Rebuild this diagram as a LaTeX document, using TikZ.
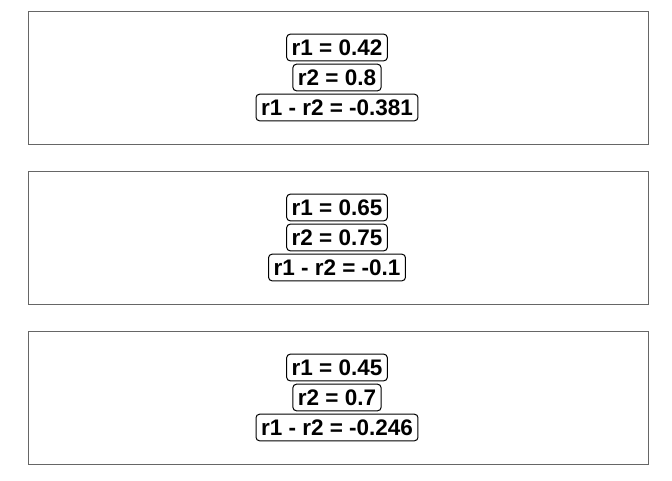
\documentclass[tikz,border=0pt]{standalone}
\usepackage{fontspec}
\setmainfont{Liberation Sans}
\definecolor{framegray}{HTML}{666666}
\tikzset{
  panel/.style={draw=framegray, line width=1pt},
  lbl/.style={draw=black, line width=1pt, rounded corners=3.5pt, fill=white,
    font=\fontsize{22.5}{27}\selectfont\bfseries, inner xsep=5pt, inner ysep=5pt,
    text height=16.6pt, text depth=0pt, anchor=center}
}
\begin{document}
\begin{tikzpicture}[x=1pt,y=-1pt]
\useasboundingbox (0,0) rectangle (672,480);
% panels
\draw[panel] (28,11) rectangle (648,144);
\draw[panel] (28,171) rectangle (648,304);
\draw[panel] (28,331) rectangle (648,464);
% panel 1
\node[lbl] (a1) at (337,47.5) {r1 = 0.42};
\node[lbl] (a2) at (337,77.5) {r2 = 0.8};
\node[lbl] (a3) at (337,107.5) {r1 - r2 = -0.381};
% panel 2
\node[lbl] (b1) at (337,207.5) {r1 = 0.65};
\node[lbl] (b2) at (337,237.5) {r2 = 0.75};
\node[lbl] (b3) at (337,267.5) {r1 - r2 = -0.1};
% panel 3
\node[lbl] (c1) at (337,367.5) {r1 = 0.45};
\node[lbl] (c2) at (337,397.5) {r2 = 0.7};
\node[lbl] (c3) at (337,427.5) {r1 - r2 = -0.246};
\end{tikzpicture}
\end{document}
